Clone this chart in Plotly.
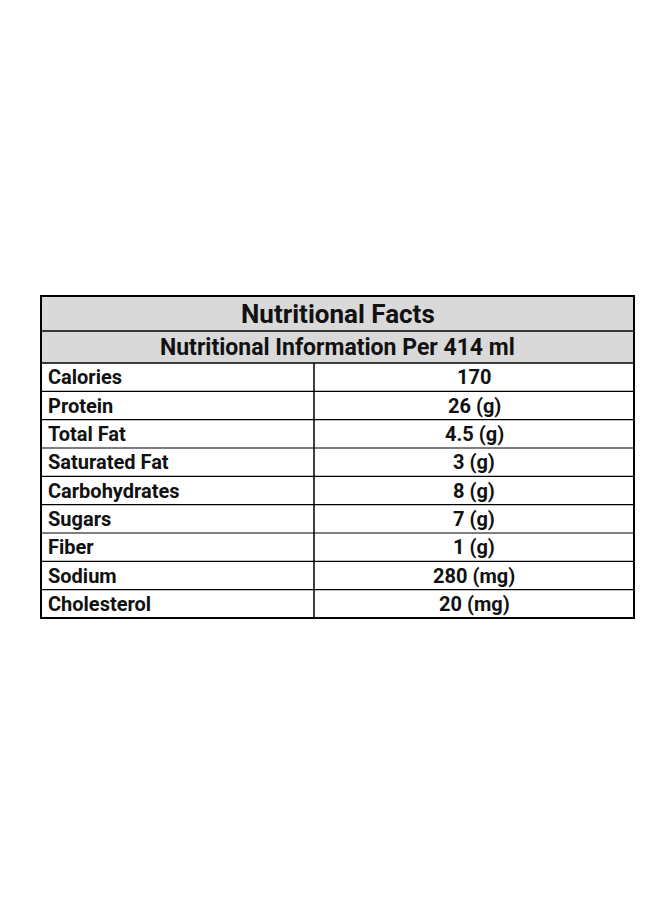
import plotly.graph_objects as go

title = "Nutritional Facts"
subtitle = "Nutritional Information Per 414 ml"
nutrients = ["Calories", "Protein", "Total Fat", "Saturated Fat", "Carbohydrates",
             "Sugars", "Fiber", "Sodium", "Cholesterol"]
amounts = ["170", "26 (g)", "4.5 (g)", "3 (g)", "8 (g)", "7 (g)", "1 (g)", "280 (mg)", "20 (mg)"]

W, H = 660, 900
L, R, DIV = 33, 626, 306
T0, T1, T2 = 288, 323, 355
RH = (610 - T2) / len(nutrients)
font = "Roboto"
col = "#111"

shapes, ann = [], []
shapes.append(dict(type="rect", x0=L, x1=R, y0=T0, y1=T2, fillcolor="#d9d9d9", line_width=0, layer="below"))
ann.append(dict(x=(L + R) / 2, y=(T0 + T1) / 2, text=f"<b>{title}</b>", showarrow=False,
                font=dict(family=font, size=26, color=col)))
ann.append(dict(x=(L + R) / 2, y=(T1 + T2) / 2, text=f"<b>{subtitle}</b>", showarrow=False,
                font=dict(family=font, size=23, color=col)))
for y in [T1, T2]:
    shapes.append(dict(type="line", x0=L, x1=R, y0=y, y1=y, line=dict(color="black", width=1.5)))
for i, (n, a) in enumerate(zip(nutrients, amounts)):
    yc = T2 + RH * (i + 0.5)
    ann.append(dict(x=L + 5, y=yc, text=f"<b>{n}</b>", xanchor="left", showarrow=False,
                    font=dict(family=font, size=20, color=col)))
    ann.append(dict(x=(DIV + R) / 2, y=yc, text=f"<b>{a}</b>", showarrow=False,
                    font=dict(family=font, size=20, color=col)))
    yb = T2 + RH * (i + 1)
    shapes.append(dict(type="line", x0=L, x1=R, y0=yb, y1=yb, line=dict(color="black", width=1.2)))
shapes.append(dict(type="line", x0=DIV, x1=DIV, y0=T2, y1=T2 + RH * len(nutrients),
                   line=dict(color="black", width=1.5)))
shapes.append(dict(type="rect", x0=L, x1=R, y0=T0, y1=T2 + RH * len(nutrients),
                   line=dict(color="black", width=2)))

fig = go.Figure()
fig.add_trace(go.Scatter(x=[0], y=[0], mode="markers", marker_opacity=0, hoverinfo="skip", showlegend=False))
fig.update_layout(width=W, height=H, margin=dict(l=0, r=0, t=0, b=0),
                  paper_bgcolor="white", plot_bgcolor="white", shapes=shapes, annotations=ann,
                  xaxis=dict(range=[0, W], visible=False, fixedrange=True),
                  yaxis=dict(range=[H, 0], visible=False, fixedrange=True))
fig.write_html("out.html", config=dict(displayModeBar=False))
